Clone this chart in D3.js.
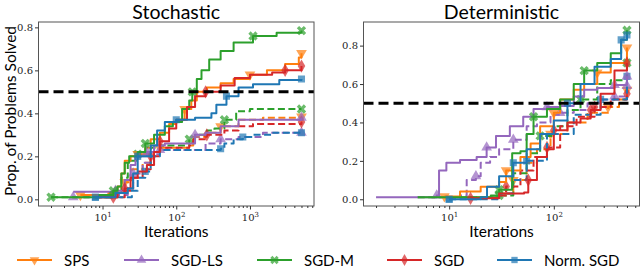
<!DOCTYPE html>
<html><head><meta charset="utf-8">
<script src="https://cdn.jsdelivr.net/npm/d3@7"></script>
<style>body{margin:0;background:#fff}svg{display:block}</style>
</head><body>
<svg id="c" width="640" height="267"></svg>
<script>
// ---------- data ----------
const methods = ["SPS", "SGD-LS", "SGD-M", "SGD", "Norm. SGD"];
const colors = ["#ff7f0e", "#9467bd", "#2ca02c", "#d62728", "#1f77b4"];
const panelTitles = ["Stochastic", "Deterministic"];
const yTicksStoch = [0.0, 0.2, 0.4, 0.6, 0.8];
const yTicksDet = [0.0, 0.2, 0.4, 0.6, 0.8];
const xTickExps = [1, 2, 3];

// Stochastic panel: [iterations, proportion solved]
const stochSolid = [
  [[5,0.02],[12,0.03],[16,0.06],[18,0.12],[20,0.18],[24,0.2],[30,0.21],[38,0.24],[45,0.28],[60,0.31],[80,0.35],[100,0.37],[130,0.42],[160,0.46],[190,0.5],[260,0.52],[400,0.54],[600,0.56],[1000,0.58],[1700,0.6],[3000,0.63],[4600,0.66],[5000,0.68]],
  [[4,0.035],[15,0.04],[20,0.09],[24,0.16],[28,0.2],[40,0.22],[50,0.25],[70,0.26],[150,0.26],[180,0.3],[250,0.31],[400,0.34],[700,0.37],[5000,0.38]],
  [[2,0.01],[9,0.02],[14,0.04],[16,0.06],[18,0.12],[20,0.17],[23,0.2],[30,0.22],[38,0.26],[50,0.3],[70,0.34],[90,0.36],[120,0.42],[150,0.46],[165,0.5],[190,0.56],[220,0.6],[280,0.65],[400,0.69],[600,0.73],[1100,0.76],[2300,0.775],[5000,0.785]],
  [[9,0.01],[14,0.01],[16,0.03],[20,0.05],[24,0.1],[30,0.13],[40,0.16],[50,0.22],[60,0.27],[80,0.33],[100,0.37],[140,0.43],[180,0.48],[250,0.5],[400,0.53],[620,0.565],[1000,0.58],[2000,0.59],[3000,0.6],[5000,0.62]],
  [[8,0.01],[15,0.03],[22,0.05],[26,0.12],[30,0.2],[45,0.25],[55,0.32],[70,0.36],[100,0.37],[180,0.38],[300,0.4],[350,0.44],[480,0.48],[700,0.52],[1100,0.535],[2500,0.555],[5000,0.56]]
];
const stochDashed = [
  [[8,0.01],[16,0.03],[20,0.08],[25,0.14],[35,0.17],[45,0.22],[60,0.24],[150,0.25],[170,0.29],[260,0.31],[400,0.34],[700,0.37],[1500,0.38],[5000,0.385]],
  [[4,0.01],[15,0.02],[22,0.05],[26,0.12],[35,0.17],[50,0.21],[60,0.23],[200,0.23],[250,0.26],[400,0.28],[700,0.29],[1500,0.31],[5000,0.31]],
  [[2,0.01],[14,0.03],[18,0.1],[22,0.18],[30,0.21],[45,0.24],[60,0.25],[130,0.25],[150,0.28],[180,0.3],[260,0.32],[330,0.33],[450,0.37],[650,0.41],[1000,0.42],[5000,0.42]],
  [[9,0.01],[14,0.01],[20,0.04],[26,0.1],[35,0.14],[45,0.2],[60,0.24],[150,0.25],[170,0.28],[260,0.3],[450,0.32],[700,0.34],[1100,0.35],[5000,0.36]],
  [[8,0.01],[25,0.04],[30,0.1],[38,0.13],[45,0.2],[60,0.23],[400,0.235],[450,0.26],[600,0.28],[800,0.29],[1100,0.3],[2000,0.31],[5000,0.31]]
];
// Deterministic panel
const detSolid = [
  [[9,0.015],[12.7,0.04],[20,0.065],[30,0.09],[35,0.15],[48,0.22],[60,0.29],[74,0.38],[100,0.45],[115,0.52],[155,0.57],[195,0.6],[260,0.66],[350,0.71],[500,0.79]],
  [[2,0.01],[7.6,0.02],[8,0.15],[9.4,0.19],[12.7,0.205],[18.3,0.22],[22.8,0.27],[28,0.33],[38,0.38],[51,0.43],[64,0.47],[86,0.48],[115,0.486],[155,0.535],[195,0.57],[260,0.58],[380,0.595],[500,0.64]],
  [[5,0.01],[25,0.02],[30,0.05],[40,0.24],[48,0.25],[55,0.34],[64,0.43],[86,0.47],[115,0.52],[155,0.6],[195,0.67],[260,0.71],[350,0.76],[440,0.83],[500,0.88]],
  [[16,0.005],[30,0.03],[52,0.035],[57,0.1],[69,0.22],[86,0.26],[100,0.36],[135,0.4],[180,0.42],[225,0.465],[280,0.55],[380,0.67],[500,0.71]],
  [[10,0.0],[20,0.01],[23,0.065],[30,0.12],[41,0.19],[55,0.26],[74,0.34],[100,0.41],[135,0.5],[180,0.6],[245,0.69],[350,0.73],[440,0.83],[500,0.855]]
];
const detDashed = [
  [[9,0.01],[30,0.03],[41,0.1],[55,0.19],[69,0.26],[93,0.34],[135,0.4],[210,0.45],[330,0.48],[420,0.52],[500,0.57]],
  [[9.4,0.01],[12.7,0.02],[14.7,0.1],[18,0.12],[20,0.19],[24.6,0.22],[30,0.26],[41,0.31],[55,0.38],[69,0.4],[93,0.44],[115,0.45],[155,0.465],[210,0.5],[280,0.52],[380,0.535],[500,0.59]],
  [[5,0.01],[30,0.02],[41,0.135],[55,0.24],[74,0.33],[100,0.38],[135,0.465],[180,0.52],[260,0.6],[350,0.62],[500,0.71]],
  [[16,0.005],[30,0.02],[35,0.066],[48,0.15],[64,0.22],[86,0.27],[115,0.38],[165,0.43],[245,0.48],[350,0.52],[500,0.55]],
  [[10,0.0],[30,0.03],[40,0.1],[55,0.2],[86,0.34],[155,0.44],[280,0.52],[500,0.64]]
];
const threshold = 0.5;

// ---------- layout ----------
const svg = d3.select("#c");
const panels = [
  {title: panelTitles[0], solid: stochSolid, dashed: stochDashed, yTicks: yTicksStoch,
   xDom: [2, 5000], yDom: [-0.031, 0.825], x0: 38.5, x1: 314},
  {title: panelTitles[1], solid: detSolid, dashed: detDashed, yTicks: yTicksDet,
   xDom: [2, 500], yDom: [-0.035, 0.923], x0: 363.5, x1: 639.5}
];
const topY = 22, bottomY = 206;
const symbols = [
  {t: d3.symbolTriangle, r: 180},
  {t: d3.symbolTriangle, r: 0},
  {t: d3.symbolCross, r: 45},
  {t: d3.symbolDiamond, r: 0},
  {t: d3.symbolSquare, r: 0}
];

panels.forEach((p) => {
  const lmin = Math.log10(p.xDom[0]), lmax = Math.log10(p.xDom[1]);
  const m = (lmax - lmin) * 0.05;
  const x = d3.scaleLog().domain([Math.pow(10, lmin - m), Math.pow(10, lmax + m)]).range([p.x0, p.x1]);
  const y = d3.scaleLinear().domain(p.yDom).range([bottomY, topY]);
  const g = svg.append("g");

  const clipId = "clip" + Math.round(p.x0);
  svg.append("clipPath").attr("id", clipId).append("rect")
    .attr("x", p.x0).attr("y", topY).attr("width", p.x1 - p.x0).attr("height", bottomY - topY);
  const plot = g.append("g").attr("clip-path", `url(#${clipId})`);

  const line = d3.line().x(d => x(d[0])).y(d => y(d[1])).curve(d3.curveStepAfter);

  const drawSet = (set, dashed) => {
    set.forEach((data, i) => {
      plot.append("path").datum(data).attr("d", line)
        .attr("fill", "none").attr("stroke", colors[i]).attr("stroke-width", 2)
        .attr("stroke-dasharray", dashed ? "7,3.5" : null)
        .attr("stroke-linejoin", "round");
      const step = Math.max(3, Math.round(data.length / 4));
      const marks = data.filter((d, k) => (k % step === (i + (dashed ? 2 : 0)) % step) || k === data.length - 1);
      plot.selectAll(null).data(marks).enter().append("path")
        .attr("d", d3.symbol().type(symbols[i].t).size(symbols[i].t === d3.symbolCross ? 55 : 50))
        .attr("transform", d => `translate(${x(d[0])},${y(d[1])}) rotate(${symbols[i].r})`)
        .attr("fill", colors[i]).attr("fill-opacity", 0.7);
    });
  };
  drawSet(p.dashed, true);
  drawSet(p.solid, false);

  // threshold
  plot.append("line").attr("x1", p.x0).attr("x2", p.x1)
    .attr("y1", y(threshold)).attr("y2", y(threshold))
    .attr("stroke", "#000").attr("stroke-width", 3).attr("stroke-dasharray", "10,5");

  // frame
  g.append("rect").attr("x", p.x0).attr("y", topY).attr("width", p.x1 - p.x0).attr("height", bottomY - topY)
    .attr("fill", "none").attr("stroke", "#555").attr("stroke-width", 1);

  // y axis
  const yAxis = d3.axisLeft(y).tickValues(p.yTicks).tickSize(3.5).tickPadding(2).tickFormat(d3.format(".1f"));
  const ya = g.append("g").attr("transform", `translate(${p.x0},0)`).call(yAxis);
  ya.select(".domain").remove();
  ya.selectAll("text").attr("font-family", "'DejaVu Serif', serif").attr("font-size", 10).attr("fill", "#222");
  ya.selectAll("line").attr("stroke", "#333");

  // x axis major
  const majors = xTickExps.map(e => Math.pow(10, e)).filter(v => v >= x.domain()[0] && v <= x.domain()[1]);
  const xAxis = d3.axisBottom(x).tickValues(majors).tickSize(3.5).tickPadding(3).tickFormat("");
  const xa = g.append("g").attr("transform", `translate(0,${bottomY})`).call(xAxis);
  xa.select(".domain").remove();
  xa.selectAll("line").attr("stroke", "#333");
  xa.selectAll(".tick").each(function(d) {
    const t = d3.select(this).append("text").attr("y", 15).attr("text-anchor", "middle")
      .attr("font-family", "'DejaVu Serif', serif").attr("font-size", 10).attr("fill", "#222");
    t.append("tspan").text("10");
    t.append("tspan").attr("dy", -4).attr("font-size", 7).text(Math.round(Math.log10(d)));
  });
  // minor ticks
  const minors = [];
  for (let e = 0; e <= 4; e++) for (let k = 2; k <= 9; k++) {
    const v = k * Math.pow(10, e);
    if (v > x.domain()[0] && v < x.domain()[1]) minors.push(v);
  }
  const xm = g.append("g").attr("transform", `translate(0,${bottomY})`)
    .call(d3.axisBottom(x).tickValues(minors).tickSize(2).tickFormat(""));
  xm.select(".domain").remove();
  xm.selectAll("line").attr("stroke", "#333");

  // title
  g.append("text").attr("x", (p.x0 + p.x1) / 2).attr("y", 18.5).attr("text-anchor", "middle")
    .attr("font-family", "Lato, sans-serif").attr("font-size", 19.5).attr("fill", "#000").text(p.title);
  // x label
  g.append("text").attr("x", (p.x0 + p.x1) / 2).attr("y", 237).attr("text-anchor", "middle")
    .attr("font-family", "Lato, sans-serif").attr("font-size", 15.5).attr("fill", "#000").text("Iterations");
});

// y label
svg.append("text").attr("transform", `translate(15.5,${(topY + bottomY) / 2 - 3}) rotate(-90)`)
  .attr("text-anchor", "middle").attr("font-family", "Lato, sans-serif").attr("font-size", 15.5)
  .attr("fill", "#000").text("Prop. of Problems Solved");

// legend
const legX = [17, 124, 257, 387, 497];
const leg = svg.append("g");
methods.forEach((name, i) => {
  const gg = leg.append("g").attr("transform", `translate(${legX[i]},260)`);
  gg.append("line").attr("x1", 0).attr("x2", 35).attr("stroke", colors[i]).attr("stroke-width", 2);
  gg.append("path").attr("d", d3.symbol().type(symbols[i].t).size(symbols[i].t === d3.symbolCross ? 45 : 40))
    .attr("transform", `translate(17.5,0) rotate(${symbols[i].r})`)
    .attr("fill", colors[i]).attr("fill-opacity", 0.7);
  gg.append("text").attr("x", 47).attr("y", 5.5).attr("font-family", "Lato, sans-serif")
    .attr("font-size", 15).attr("fill", "#000").text(name);
});
</script>
</body></html>
